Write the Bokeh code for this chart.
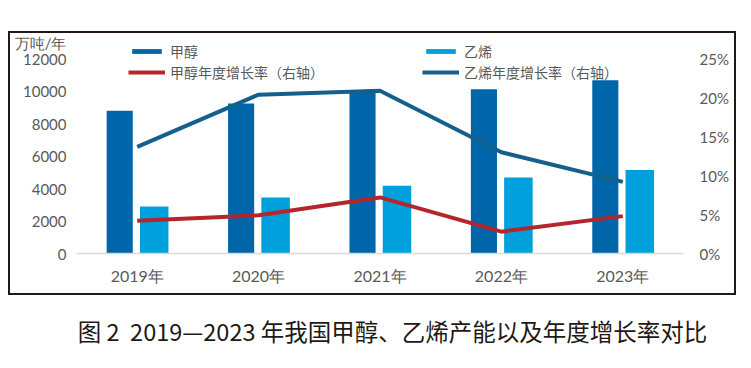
from bokeh.plotting import figure
from bokeh.models import (FactorRange, Range1d, LinearAxis, FixedTicker, Legend, LegendItem,
                          Label, ColumnDataSource, PrintfTickFormatter, Spacer)
from bokeh.layouts import column, row
from bokeh.transform import dodge
from bokeh.embed import file_html
from bokeh.resources import INLINE

years = ["2019年", "2020年", "2021年", "2022年", "2023年"]
methanol = [8800, 9250, 9960, 10130, 10680]
ethylene = [2900, 3450, 4170, 4680, 5140]
methanol_growth = [4.2, 4.9, 7.2, 2.8, 4.8]
ethylene_growth = [13.7, 20.4, 20.9, 13.0, 9.2]
left_ticks = [0, 2000, 4000, 6000, 8000, 10000, 12000]
right_ticks = [0, 5, 10, 15, 20, 25]
unit_label = "万吨/年"
unit_pos = 13080

C_MEOH = "#0066AA"
C_ETH = "#00A0DC"
C_MEOH_G = "#B3262C"
C_ETH_G = "#155F8D"
TXT = "#595959"
FONT = "Lato"
FRAME = "#231815"

src = ColumnDataSource(dict(year=years, methanol=methanol, ethylene=ethylene,
                            mg=methanol_growth, eg=ethylene_growth))

p = figure(width=724, height=260, x_range=FactorRange(*years, range_padding=0),
           y_range=Range1d(0, 13253), output_backend="svg", toolbar_location=None,
           min_border_left=66, min_border_right=51, min_border_top=5, min_border_bottom=40)
p.extra_y_ranges = {"pct": Range1d(0, 27.61)}
p.outline_line_color = None
p.xgrid.visible = False
p.ygrid.visible = False

r_m = p.vbar(x=dodge("year", -0.144, range=p.x_range), top="methanol", width=0.215,
             source=src, fill_color=C_MEOH, line_color=None)
r_e = p.vbar(x=dodge("year", 0.14, range=p.x_range), top="ethylene", width=0.235,
             source=src, fill_color=C_ETH, line_color=None)
r_mg = p.line(x="year", y="mg", source=src, y_range_name="pct", line_color=C_MEOH_G,
              line_width=4)
r_eg = p.line(x="year", y="eg", source=src, y_range_name="pct", line_color=C_ETH_G,
              line_width=4)

def style_axis(ax, size, standoff):
    ax.major_tick_line_color = None
    ax.minor_tick_line_color = None
    ax.major_tick_out = 0
    ax.major_tick_in = 0
    ax.minor_tick_out = 0
    ax.minor_tick_in = 0
    ax.major_label_text_font = FONT
    ax.major_label_text_font_size = size
    ax.major_label_text_color = TXT
    ax.major_label_standoff = standoff

# left axis (with unit label at the top)
ya = p.yaxis[0]
ya.ticker = FixedTicker(ticks=left_ticks + [unit_pos])
ya.formatter = PrintfTickFormatter(format="%d")
ya.major_label_overrides = {unit_pos: unit_label}
ya.axis_line_color = None
style_axis(ya, "15px", 10)

ra = LinearAxis(y_range_name="pct", ticker=FixedTicker(ticks=right_ticks),
                formatter=PrintfTickFormatter(format="%d%%"))
ra.axis_line_color = None
style_axis(ra, "15px", 16)
p.add_layout(ra, "right")

xa = p.xaxis[0]
xa.axis_line_color = "#D9D9D9"
xa.axis_line_width = 1.5
style_axis(xa, "16px", 12)

def mk_legend(item, x, y):
    lg = Legend(items=[item], location=(x, y), orientation="vertical")
    lg.background_fill_alpha = 0
    lg.border_line_color = None
    lg.padding = 0
    lg.margin = 0
    lg.spacing = 0
    lg.glyph_width = 37
    lg.glyph_height = 6
    lg.label_height = 17
    lg.label_standoff = 5
    lg.label_text_font = "Noto Sans CJK SC"
    lg.label_text_font_size = "14px"
    lg.label_text_color = TXT
    return lg

p.add_layout(mk_legend(LegendItem(label="甲醇", renderers=[r_m]), 52, 192))
p.add_layout(mk_legend(LegendItem(label="甲醇年度增长率（右轴）", renderers=[r_mg]), 52, 171))
p.add_layout(mk_legend(LegendItem(label="乙烯", renderers=[r_e]), 346, 192))
p.add_layout(mk_legend(LegendItem(label="乙烯年度增长率（右轴）", renderers=[r_eg]), 346, 171))

def bar(w, h):
    return Spacer(width=w, height=h, styles={"background-color": FRAME})

boxed = row(bar(2, 264), column(bar(724, 2), p, bar(724, 2)), bar(2, 264))

cap = figure(width=732, height=60, x_range=Range1d(0, 1), y_range=Range1d(0, 60),
             output_backend="svg", toolbar_location=None, min_border=0)
cap.axis.visible = False
cap.grid.visible = False
cap.outline_line_color = None
cap.add_layout(Label(x=0.5246, y=25,
                     text="图\u00a02\u00a0\u00a02019—2023\u00a0年我国甲醇、乙烯产能以及年度增长率对比",
                     text_font="Noto Sans CJK SC", text_font_size="23.5px", text_color="#231815",
                     text_align="center", text_baseline="middle"))

layout = row(Spacer(width=8, height=10), column(Spacer(width=10, height=31), boxed, cap))
open("out.html", "w").write(file_html(layout, INLINE))
